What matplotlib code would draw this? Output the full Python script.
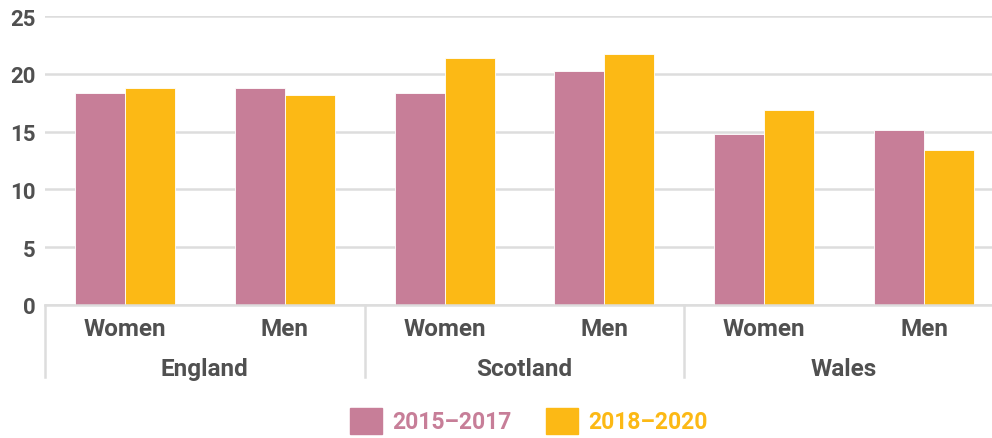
import numpy as np
import matplotlib.pyplot as plt
from matplotlib.patches import Patch

countries = ["England", "Scotland", "Wales"]
sexes = ["Women", "Men"]
periods = ["2015\u20132017", "2018\u20132020"]
vals_2015 = [18.3, 18.8, 18.3, 20.2, 14.8, 15.1]
vals_2018 = [18.8, 18.2, 21.4, 21.7, 16.9, 13.4]

pink = "#C77E98"
yellow = "#FCB915"
grey_txt = "#505050"
grid_c = "#DDDDDD"

plt.rcParams["font.family"] = ["Roboto", "DejaVu Sans"]
plt.rcParams["font.weight"] = "bold"

fig = plt.figure(figsize=(9.92, 4.39), dpi=100)
ax = fig.add_axes([45 / 992, 133 / 439, 959 / 992, 289 / 439])

x = np.arange(len(vals_2015))
w = 0.3125
ax.bar(x - w / 2, vals_2015, w, color=pink, edgecolor="white", linewidth=0.6, zorder=3)
ax.bar(x + w / 2, vals_2018, w, color=yellow, edgecolor="white", linewidth=0.6, zorder=3)

ax.set_xlim(-0.5, 5.5)
ax.set_ylim(0, 25)
ax.set_yticks([0, 5, 10, 15, 20, 25])
ax.tick_params(axis="y", length=0, labelsize=16, labelcolor=grey_txt, pad=7)
for t in ax.get_yticklabels():
    t.set_fontweight("bold")
ax.set_xticks([])
ax.yaxis.grid(True, color=grid_c, linewidth=1.8, zorder=0)
for s in ax.spines.values():
    s.set_visible(False)

tr = ax.get_xaxis_transform()
ax.plot([-0.5, 5.5], [0, 0], transform=tr, color=grid_c, lw=1.8, clip_on=False, zorder=4)
for xb in [-0.5, 1.5, 3.5]:
    ax.plot([xb, xb], [0, -0.249], transform=tr, color=grid_c, lw=1.8, clip_on=False)

for i in x:
    ax.text(i, -0.083, sexes[i % 2], transform=tr, ha="center", va="center",
            fontsize=17.5, color=grey_txt, fontweight="bold")
for j, c in enumerate(countries):
    ax.text(2 * j + 0.5, -0.221, c, transform=tr, ha="center", va="center",
            fontsize=17.5, color=grey_txt, fontweight="bold")

handles = [Patch(color=pink), Patch(color=yellow)]
leg = fig.legend(handles, periods, loc="center", bbox_to_anchor=(0.533, 0.039),
                 ncol=2, frameon=False, handlelength=1.4, handleheight=1.4,
                 handletextpad=0.45, columnspacing=1.5, labelcolor=[pink, yellow],
                 prop={"weight": "bold", "size": 16.5})

fig.savefig("out.png", dpi=100)
